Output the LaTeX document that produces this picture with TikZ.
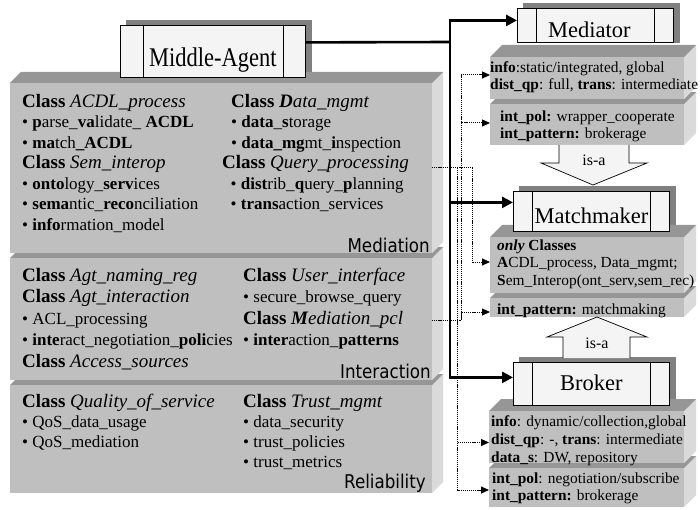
\documentclass[tikz,border=0pt]{standalone}
\usepackage{fontspec}
\setmainfont{Liberation Serif}
\newfontfamily\layerfont[FakeStretch=0.88]{DejaVu Sans}
\usepackage{graphicx}
\usepackage{tikz}
\usetikzlibrary{arrows.meta,calc,backgrounds}
\definecolor{facefront}{HTML}{BFBFBF}
\definecolor{facetop}{HTML}{969696}
\definecolor{faceside}{HTML}{DADADA}
\definecolor{shadowgrey}{HTML}{808080}
\definecolor{boxwhite}{HTML}{F4F4F4}
\tikzset{
  frontface/.style={fill=facefront, inner sep=0pt, outer sep=0pt, anchor=north west},
  topface/.style={fill=facetop},
  sideface/.style={fill=faceside},
  agent/.style={draw=black, line width=0.8pt, fill=boxwhite, inner sep=0pt,
                anchor=north west, font=\fontsize{22.5}{24}\selectfont, text depth=0pt,
                path picture={
                  \draw[line width=0.8pt] ([xshift=#1]path picture bounding box.north west)
                     -- ([xshift=#1]path picture bounding box.south west);
                  \draw[line width=0.8pt] ([xshift=-#1]path picture bounding box.north east)
                     -- ([xshift=-#1]path picture bounding box.south east);}},
  coltext/.style={align=left, inner sep=0pt, anchor=north west,
                  font=\fontsize{17}{#1}\selectfont},
  rtext/.style={align=left, inner sep=0pt, anchor=north west,
                font=\fontsize{15.4}{#1}\selectfont},
  layer/.style={anchor=base east, inner sep=0pt,
                font=\layerfont\fontsize{19}{19}\selectfont},
  trunk/.style={line width=2.6pt, draw=black},
  trunkflow/.style={trunk, -{Triangle[length=11pt,width=11pt]}},
  dotline/.style={line width=1pt, dash pattern=on 1.2pt off 0.9pt},
  dotflow/.style={dotline, -{Triangle[length=8pt,width=7pt]}},
  isa/.style={draw=black, line width=0.7pt, fill=boxwhite},
  isalabel/.style={inner sep=0pt, font=\fontsize{16}{16}\selectfont},
}
% slab: name, x1, y1, x2, y2, depth
\newcommand{\slab}[6]{%
  \fill[sideface] (#4,#3) -- (#4+#6,#3-#6) -- (#4+#6,#5-#6) -- (#4,#5) -- cycle;
  \fill[topface] (#2,#3) -- (#2+#6,#3-#6) -- (#4+#6,#3-#6) -- (#4,#3) -- cycle;
  \node[frontface, minimum width=#4-#2, minimum height=#5-#3] (#1) at (#2,#3) {};}
\newcommand{\cls}[1]{{\fontsize{19}{20}\selectfont\textbf{Class} \textit{#1}}}
\newcommand{\itm}{\textbullet\ }

\begin{document}
\begin{tikzpicture}[x=1pt, y=-1pt]
\useasboundingbox (0,0) rectangle (700,510);

% ---------------- the three layers ----------------------------------------
\slab{rel}{10}{385}{432}{493}{11}
\slab{inter}{10}{258}{432}{380}{11}
\slab{medi}{10}{83}{432}{253}{11}

\node[coltext=20.5] (acdl) at (22,94)
  {\cls{ACDL\_process}\\
   \itm\textbf{p}arse\_\textbf{va}lidate\_ \textbf{ACDL}\\
   \itm\textbf{ma}tch\textbf{\_ACDL}\\
   \cls{Sem\_interop}\\
   \itm\textbf{onto}logy\_\textbf{serv}ices\\
   \itm\textbf{sema}ntic\_\textbf{reco}nciliation\\
   \itm\textbf{info}rmation\_model};
\node[coltext=20.5] (datam) at (231,94)
  {\cls{\textbf{D}ata\_mgmt}\\
   \itm\textbf{data}\_\textbf{s}torage\\
   \itm\textbf{data\_mg}mt\_\textbf{i}nspection};
\node[coltext=20.5] (query) at (222,155.5)
  {\cls{Query\_processing}\\
   \hspace*{8.5pt}\itm\textbf{dist}rib\_\textbf{q}uery\_\textbf{p}lanning\\
   \hspace*{8.5pt}\itm\textbf{trans}action\_services};
\node[layer] (medilbl) at (430,252) {Mediation};

\node[coltext=21.5] (agtint) at (22,267.7)
  {\cls{Agt\_naming\_reg}\\
   \cls{Agt\_interaction}\\
   \itm ACL\_processing\\
   \itm\textbf{inte}ract\_negotiation\_\textbf{poli}cies\\
   \cls{Access\_sources}};
\node[coltext=21.5] (userif) at (243,267.7)
  {\cls{User\_interface}\\
   \itm secure\_browse\_query\\
   \cls{\textbf{M}ediation\_pcl}\\
   \itm\textbf{inter}action\_\textbf{patterns}};
\node[layer] (interlbl) at (431,378) {Interaction};

\node[coltext=20.2] (qos) at (22,393.7)
  {\cls{Quality\_of\_service}\\
   \itm QoS\_data\_usage\\
   \itm QoS\_mediation};
\node[coltext=20.2] (trust) at (243,393.7)
  {\cls{Trust\_mgmt}\\
   \itm data\_security\\
   \itm trust\_policies\\
   \itm trust\_metrics};
\node[layer] (rellbl) at (426,488) {Reliability};

\node[agent=22.5pt, minimum width=185, minimum height=52, text height=30pt] (ma)
  at (120,25) {\scalebox{1}[1.2]{Middle-Agent}};

% ---------------- Mediator ------------------------------------------------
\slab{medpol}{490}{104}{684}{145}{12}
\slab{medinfo}{490}{57}{684}{99}{12}
\node[agent=19pt, minimum width=156, minimum height=34, text height=23.4pt] (med)
  at (517,8) {Mediator\hspace*{12pt}};
\node[rtext=17] (tmedinfo) at (490,61.4)
  {\textbf{info}:static/integrated, global\\
   \textbf{dist\_qp}: full, \textbf{trans}: intermediate};
\node[rtext=17] (tmedpol) at (500,110.4)
  {\textbf{int\_pol:} wrapper\_cooperate\\
   \textbf{int\_pattern:} brokerage};

\path[isa] (559,145) -- (559,163) -- (541,163) -- (593,185) -- (647,163)
  -- (629,163) -- (629,145);
\node[isalabel] (isadown) at (594,160.5) {is-a};

% ---------------- Matchmaker ----------------------------------------------
\slab{mmpat}{490}{298}{684}{317}{12}
\slab{mmcls}{490}{237}{684}{293}{12}
\node[agent=19pt, minimum width=156, minimum height=40, text height=24pt] (mm)
  at (513,191) {Matchmaker};
\node[rtext=17.5] (tmmcls) at (497,239.4)
  {\textbf{\textit{only}} \textbf{Classes}\\
   \textbf{A}CDL\_process, Data\_mgmt;\\
   \textbf{S}em\_Interop(ont\_serv,sem\_rec)};
\node[rtext=17.5] (tmmpat) at (497,303.4) {\textbf{int\_pattern:} matchmaking};

\path[isa] (563,358) -- (563,337) -- (547,337) -- (597,317) -- (647,337)
  -- (630,337) -- (630,358);
\node[isalabel] (isaup) at (597,343) {is-a};

% ---------------- Broker --------------------------------------------------
\slab{brkpol}{489}{468}{684}{507}{12}
\slab{brkinfo}{489}{411}{684}{463}{12}
\node[agent=19pt, minimum width=156, minimum height=43, text height=13pt] (brk)
  at (513,362) {Broker};
\node[rtext=18] (tbrkinfo) at (491,415)
  {\textbf{info}: dynamic/collection,global\\
   \textbf{dist\_qp}: -, \textbf{trans}: intermediate\\
   \textbf{data\_s}: DW, repository};
\node[rtext=17.5] (tbrkpol) at (492,472.4)
  {\textbf{int\_pol}: negotiation/subscribe\\
   \textbf{int\_pattern:} brokerage};

% box shadows
\begin{pgfonlayer}{background}
  \foreach \b in {ma,med,mm,brk}
    \fill[shadowgrey] ([shift={(6pt,5pt)}]\b.north west) rectangle ([xshift=6pt]\b.south east);
\end{pgfonlayer}

% ---------------- connectors ----------------------------------------------
\coordinate (jt) at (450,42);
\coordinate (qpout) at (432,168);
\coordinate (pclout) at (432,320);
\draw[trunk] ([yshift=9pt]ma.east) -- (jt);
\draw[trunkflow] (jt) |- ([yshift=5pt]med.west);
\draw[trunkflow] (jt) |- ([yshift=9pt]mm.west);
\draw[trunkflow] (jt) |- ([yshift=6.5pt]brk.west);

\draw[dotflow] (qpout) -- (472,168) |- ([yshift=3pt]mmcls.west);
\draw[dotflow] (461,168) |- ([yshift=3pt]medinfo.west);
\draw[dotflow] (461,168) |- ([yshift=1.5pt]medpol.west);
\draw[dotline] (461,168) -- (461,320);
\draw[dotflow] (pclout) -- (461,320) |- ([yshift=-4.5pt]mmpat.west);
\draw[dotflow] (457,168) |- ([yshift=-5.5pt]brkinfo.west);
\draw[dotflow] (457,168) |- ([yshift=-2.5pt]brkpol.west);
\end{tikzpicture}
\end{document}
